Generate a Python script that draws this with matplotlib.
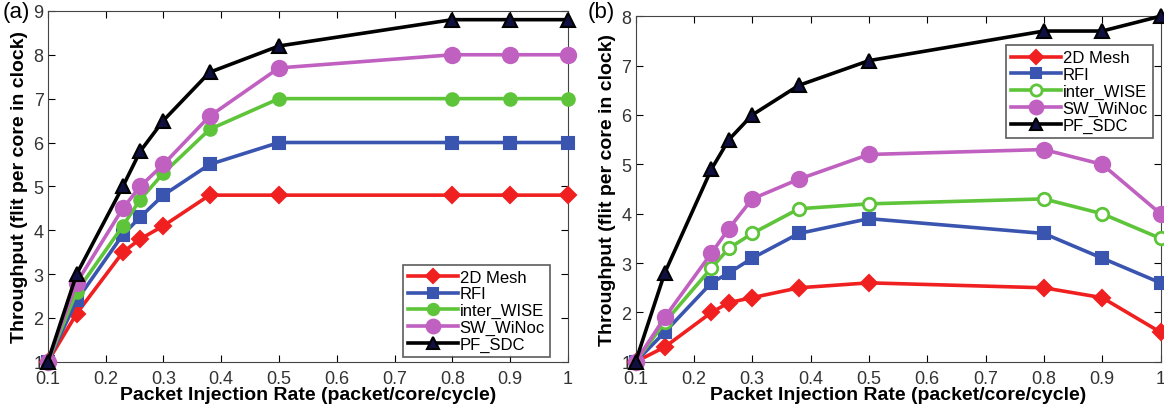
# Throughput vs packet injection rate, two panels
import matplotlib.pyplot as plt

plt.rcParams['font.family'] = ['Liberation Sans', 'DejaVu Sans']

rate = [0.1, 0.15, 0.23, 0.26, 0.3, 0.38, 0.5, 0.8, 0.9, 1.0]
names = ["2D Mesh", "RFI", "inter_WISE", "SW_WiNoc", "PF_SDC"]

# (a)
mesh_a = [1, 2.1, 3.5, 3.8, 4.1, 4.8, 4.8, 4.8, 4.8, 4.8]
rfi_a = [1, 2.4, 3.9, 4.3, 4.8, 5.5, 6.0, 6.0, 6.0, 6.0]
wise_a = [1, 2.6, 4.1, 4.7, 5.3, 6.3, 7.0, 7.0, 7.0, 7.0]
winoc_a = [1, 2.8, 4.5, 5.0, 5.5, 6.6, 7.7, 8.0, 8.0, 8.0]
sdc_a = [1, 3.0, 5.0, 5.8, 6.5, 7.6, 8.2, 8.8, 8.8, 8.8]

# (b)
mesh_b = [1, 1.3, 2.0, 2.2, 2.3, 2.5, 2.6, 2.5, 2.3, 1.6]
rfi_b = [1, 1.6, 2.6, 2.8, 3.1, 3.6, 3.9, 3.6, 3.1, 2.6]
wise_b = [1, 1.8, 2.9, 3.3, 3.6, 4.1, 4.2, 4.3, 4.0, 3.5]
winoc_b = [1, 1.9, 3.2, 3.7, 4.3, 4.7, 5.2, 5.3, 5.0, 4.0]
sdc_b = [1, 2.8, 4.9, 5.5, 6.0, 6.6, 7.1, 7.7, 7.7, 8.0]

colors = ['#f02020', '#3a55b0', '#5ec43a', '#c060c0', '#000000']
markers = ['D', 's', 'o', 'o', '^']
sizes = [8, 8, 9, 11, 10]

fig = plt.figure(figsize=(11.64, 4.10), dpi=100)
ax1 = fig.add_axes([0.041, 0.115, 0.447, 0.856])
ax2 = fig.add_axes([0.546, 0.115, 0.451, 0.843])


def draw(ax, series, hollow_wise, ymax, legend_loc):
    for i, ys in enumerate(series):
        face = colors[i]
        if i == 4:
            face = '#101040'
        if i == 2 and hollow_wise:
            face = 'white'
        ax.plot(rate, ys, color=colors[i], lw=2.6, marker=markers[i],
                ms=sizes[i], mfc=face, mec=colors[i], mew=2 if i == 2 and hollow_wise else 1.5,
                label=names[i], clip_on=False, zorder=3)
    ax.set_xlim(0.1, 1)
    ax.set_ylim(1, ymax)
    ax.set_xticks([0.1, 0.2, 0.3, 0.4, 0.5, 0.6, 0.7, 0.8, 0.9, 1])
    ax.set_xticklabels(["0.1", "0.2", "0.3", "0.4", "0.5", "0.6", "0.7", "0.8", "0.9", "1"])
    ax.set_yticks(range(1, ymax + 1))
    ax.tick_params(direction='in', top=True, right=True, labelsize=13,
                   labelcolor='#333333', length=5)
    ax.tick_params(axis='x', pad=6)
    ax.tick_params(axis='y', pad=3)
    ax.set_xlabel("Packet Injection Rate (packet/core/cycle)", fontsize=14,
                  fontweight='bold', labelpad=-1)
    ax.set_ylabel("Throughput (flit per core in clock)", fontsize=14,
                  fontweight='bold', labelpad=4)
    for sp in ax.spines.values():
        sp.set_color('#444444')
    leg = ax.legend(loc=legend_loc, fontsize=12, handlelength=3.0, fancybox=False,
                    labelspacing=0.1, borderpad=0.3, handletextpad=0.1,
                    borderaxespad=0.3, markerscale=0.9)
    leg.get_frame().set_edgecolor('#333333')
    leg.get_frame().set_linewidth(1.2)


draw(ax1, [mesh_a, rfi_a, wise_a, winoc_a, sdc_a], False, 9, 'lower right')
draw(ax2, [mesh_b, rfi_b, wise_b, winoc_b, sdc_b], True, 8, 'upper right')
ax1.legend_.set_bbox_to_anchor((0.975, 0.0))
ax2.legend_.set_bbox_to_anchor((0.995, 0.93))

fig.text(0.002, 0.955, "(a)", fontsize=16)
fig.text(0.505, 0.955, "(b)", fontsize=16)

fig.savefig("out.png")
